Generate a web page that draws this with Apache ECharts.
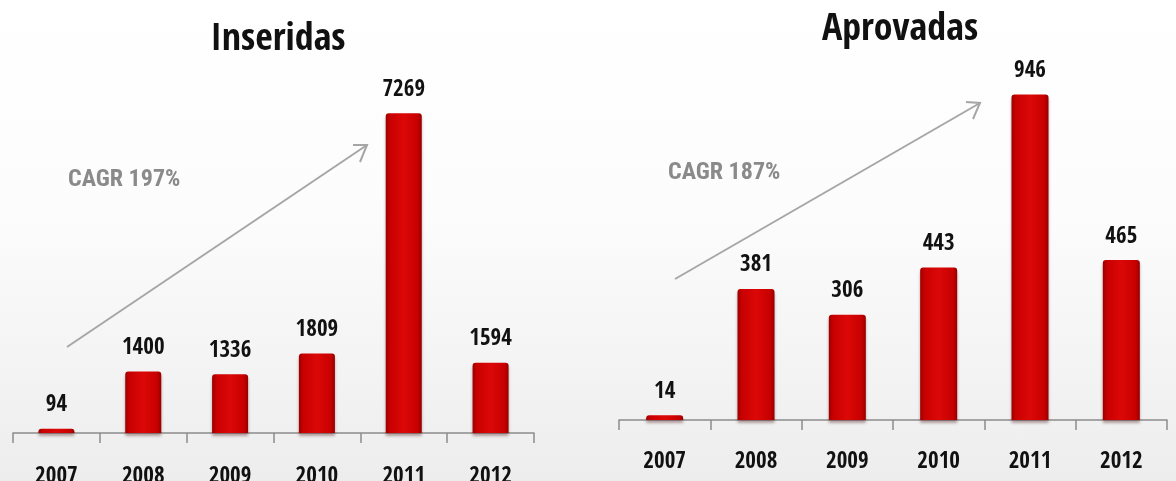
<!DOCTYPE html>
<html><head><meta charset="utf-8">
<script src="https://cdn.jsdelivr.net/npm/echarts@6/dist/echarts.min.js"></script>
<style>
html,body{margin:0;padding:0;}
#c{width:1176px;height:481px;background:linear-gradient(to bottom,#ffffff 0%,#fcfcfc 45%,#ededed 100%);}
</style></head>
<body><div id="c"></div>
<script>
const years = ['2007','2008','2009','2010','2011','2012'];
const inseridas = [94,1400,1336,1809,7269,1594];
const aprovadas = [14,381,306,443,946,465];
const titles = ['Inseridas','Aprovadas'];
const cagrTexts = ['CAGR 197%','CAGR 187%'];

const FONT = '"Open Sans Condensed","Roboto Condensed",sans-serif';
const CAGR_FONT = '"Roboto Condensed","Open Sans Condensed",sans-serif';
const barColor = {type:'linear',x:0,y:0,x2:1,y2:0,colorStops:[
  {offset:0,color:'#9c0000'},{offset:0.12,color:'#c80000'},{offset:0.5,color:'#dc0808'},{offset:0.88,color:'#c80000'},{offset:1,color:'#960000'}]};

function xAx(gi,margin){return {type:'category',gridIndex:gi,data:years,
  axisLine:{lineStyle:{color:'#8c8c8c',width:1.5}},
  axisTick:{show:true,alignWithLabel:false,length:10,lineStyle:{color:'#8c8c8c',width:1.5}},
  axisLabel:{margin:margin,fontFamily:FONT,fontWeight:'bold',fontSize:23,color:'#111'}};}
function yAx(gi,max){return {type:'value',gridIndex:gi,min:0,max:max,show:false,splitLine:{show:false}};}
function ser(gi,data,bw){return {type:'bar',xAxisIndex:gi,yAxisIndex:gi,data:data,barWidth:bw,
  itemStyle:{color:barColor,borderRadius:[3,3,0,0],shadowColor:'rgba(60,0,0,0.35)',shadowBlur:3,shadowOffsetY:3},
  label:{show:true,position:'top',distance:12,fontFamily:FONT,fontWeight:'bold',fontSize:23,color:'#111'}};}

const chart = echarts.init(document.getElementById('c'),null,{renderer:'canvas'});
chart.setOption({
  animation:false,
  backgroundColor:'transparent',
  title:[
    {text:titles[0],left:273,top:16,textAlign:'center',textStyle:{fontFamily:FONT,fontWeight:'bold',fontSize:38,color:'#111'}},
    {text:titles[1],left:895,top:6,textAlign:'center',textStyle:{fontFamily:FONT,fontWeight:'bold',fontSize:38,color:'#111'}}
  ],
  grid:[
    {left:13,width:521,top:81,bottom:48,containLabel:false,outerBoundsMode:'none'},
    {left:619,width:548,top:76,bottom:61,containLabel:false,outerBoundsMode:'none'}
  ],
  xAxis:[xAx(0,32),xAx(1,30)],
  yAxis:[yAx(0,8000),yAx(1,1000)],
  series:[ser(0,inseridas,36),ser(1,aprovadas,37)],
  graphic:[
    {type:'text',left:68,top:168,style:{text:cagrTexts[0],font:'bold 24px '+CAGR_FONT,fill:'#8a8a8a'}},
    {type:'text',left:668,top:161,style:{text:cagrTexts[1],font:'bold 24px '+CAGR_FONT,fill:'#8a8a8a'}},
    {type:'line',shape:{x1:67,y1:347,x2:367,y2:145},style:{stroke:'#a6a6a6',lineWidth:2}},
    {type:'polyline',shape:{points:[[353,145],[367,145],[360,162]]},style:{stroke:'#a6a6a6',lineWidth:2,fill:null}},
    {type:'line',shape:{x1:675,y1:279,x2:980,y2:103},style:{stroke:'#a6a6a6',lineWidth:2}},
    {type:'polyline',shape:{points:[[966,102],[980,103],[973,119]]},style:{stroke:'#a6a6a6',lineWidth:2,fill:null}}
  ]
});
</script></body></html>
